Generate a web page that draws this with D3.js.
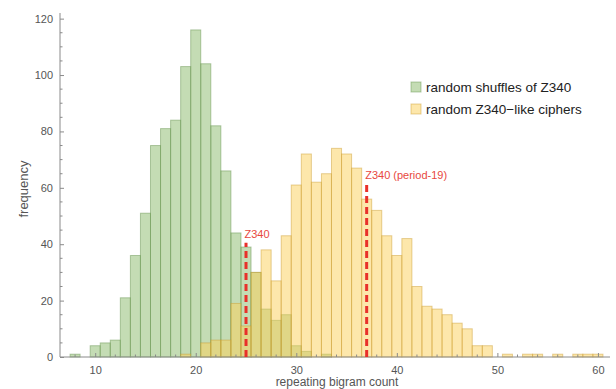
<!DOCTYPE html>
<html>
<head>
<meta charset="utf-8">
<script src="https://cdn.jsdelivr.net/npm/d3@7"></script>
<style>
  body { margin: 0; background: #fff; }
  svg { display: block; font-family: "Liberation Sans", Arial, sans-serif; }
</style>
</head>
<body>
<div id="chart"></div>
<script>
// bin centres (integers, width 1) and counts
const shuffleBins = [8, 9, 10, 11, 12, 13, 14, 15, 16, 17, 18, 19, 20, 21, 22, 23, 24, 25, 26, 27, 28, 29, 30, 31, 32, 33];
const shuffleCounts = [1, 0, 4, 5, 6, 21, 36, 51, 75, 81, 84, 103, 116, 104, 82, 66, 44, 39, 30, 17, 13, 15, 4, 2, 0, 1];

const cipherBins = [19, 20, 21, 22, 23, 24, 25, 26, 27, 28, 29, 30, 31, 32, 33, 34, 35, 36, 37, 38, 39, 40,
  41, 42, 43, 44, 45, 46, 47, 48, 49, 50, 51, 52, 53, 54, 55, 56, 57, 58, 59, 60];
const cipherCounts = [1, 0, 5, 6, 6, 19, 11, 30, 38, 27, 43, 61, 72, 62, 65, 74, 72, 67, 56, 52, 43, 36,
  42, 25, 18, 17, 15, 12, 10, 4, 4, 0, 1, 0, 1, 1, 0, 1, 0, 1, 1, 1];

const seriesNames = ["random shuffles of Z340", "random Z340\u2212like ciphers"];

const markerValues = [25, 37];
const markerTops = [40.5, 61.5];
const markerLabels = ["Z340", "Z340 (period-19)"];

const xTicks = [10, 20, 30, 40, 50, 60];
const yTicks = [0, 20, 40, 60, 80, 100, 120];

const width = 616, height = 389;
const margin = { left: 60, right: 6, top: 13, bottom: 32 };

const svg = d3.select("#chart").append("svg")
  .attr("width", width)
  .attr("height", height);

const x = d3.scaleLinear()
  .domain([6.5, 61.2])
  .range([margin.left, width - margin.right]);

const y = d3.scaleLinear()
  .domain([0, 122])
  .range([height - margin.bottom, margin.top]);

const styles = [
  { fill: "#89b969", stroke: "#5f8f48" },
  { fill: "#fbcf57", stroke: "#c99a2a" }
];

function drawBars(bins, counts, st) {
  const data = bins.map((b, i) => ({ b, v: counts[i] })).filter(d => d.v > 0);
  svg.append("g")
    .selectAll("rect")
    .data(data)
    .join("rect")
    .attr("x", d => x(d.b - 0.5))
    .attr("width", d => x(d.b + 0.5) - x(d.b - 0.5))
    .attr("y", d => y(d.v))
    .attr("height", d => y(0) - y(d.v))
    .attr("fill", st.fill)
    .attr("fill-opacity", 0.5)
    .attr("stroke", st.stroke)
    .attr("stroke-opacity", 0.45)
    .attr("stroke-width", 1);
}

drawBars(shuffleBins, shuffleCounts, styles[0]);
drawBars(cipherBins, cipherCounts, styles[1]);

// axes (ticks pointing inward)
const axisColor = "#8a8a8a";
const xMinor = d3.range(8, 61, 2).filter(v => v % 10 !== 0);
const yMinor = d3.range(5, 121, 5).filter(v => v % 20 !== 0);

const xAxis = svg.append("g")
  .attr("transform", `translate(0,${y(0)})`)
  .call(d3.axisBottom(x).tickValues(xTicks).tickSize(-4).tickPadding(9));
xAxis.append("g").selectAll("line").data(xMinor).join("line")
  .attr("x1", d => x(d)).attr("x2", d => x(d))
  .attr("y1", 0).attr("y2", -2.5)
  .attr("stroke", axisColor);

const yAxis = svg.append("g")
  .attr("transform", `translate(${x.range()[0]},0)`)
  .call(d3.axisLeft(y).tickValues(yTicks).tickSize(-4).tickPadding(7));
yAxis.append("g").selectAll("line").data(yMinor).join("line")
  .attr("y1", d => y(d)).attr("y2", d => y(d))
  .attr("x1", 0).attr("x2", 2.5)
  .attr("stroke", axisColor);

[xAxis, yAxis].forEach(a => {
  a.select(".domain").remove();
  a.selectAll(".tick line").attr("stroke", axisColor);
  a.selectAll("text").attr("fill", "#555").style("font-size", "11px")
    .style("font-family", "Liberation Sans, Arial, sans-serif");
});
svg.append("line")
  .attr("x1", x.range()[0]).attr("x2", x.range()[1])
  .attr("y1", y(0)).attr("y2", y(0))
  .attr("stroke", axisColor);
svg.append("line")
  .attr("x1", x.range()[0]).attr("x2", x.range()[0])
  .attr("y1", y(0)).attr("y2", y.range()[1])
  .attr("stroke", axisColor);

// axis titles
svg.append("text")
  .attr("x", 337).attr("y", 386)
  .attr("text-anchor", "middle")
  .attr("fill", "#555")
  .style("font-size", "12px")
  .text("repeating bigram count");

svg.append("text")
  .attr("transform", `translate(28,${189}) rotate(-90)`)
  .attr("text-anchor", "middle")
  .attr("fill", "#555")
  .style("font-size", "13px")
  .text("frequency");

// red markers
const red = "#e8302a";
markerValues.forEach((v, i) => {
  svg.append("line")
    .attr("x1", x(v)).attr("x2", x(v))
    .attr("y1", y(0)).attr("y2", y(markerTops[i]))
    .attr("stroke", red)
    .attr("stroke-width", 3)
    .attr("stroke-dasharray", "7,4");
  svg.append("text")
    .attr("x", x(v) - 1.5)
    .attr("y", y(markerTops[i]) - 5)
    .attr("fill", "#e8483e")
    .style("font-size", "11px")
    .text(markerLabels[i]);
});

// legend
const legend = svg.append("g").attr("transform", "translate(411,82)");
seriesNames.forEach((name, i) => {
  const g = legend.append("g").attr("transform", `translate(0,${i * 22})`);
  g.append("rect")
    .attr("width", 10).attr("height", 10)
    .attr("fill", styles[i].fill).attr("fill-opacity", 0.5)
    .attr("stroke", styles[i].stroke).attr("stroke-opacity", 0.45);
  g.append("text")
    .attr("x", 15).attr("y", 10)
    .attr("fill", "#222")
    .style("font-size", "13.5px")
    .text(name);
});
</script>
</body>
</html>
